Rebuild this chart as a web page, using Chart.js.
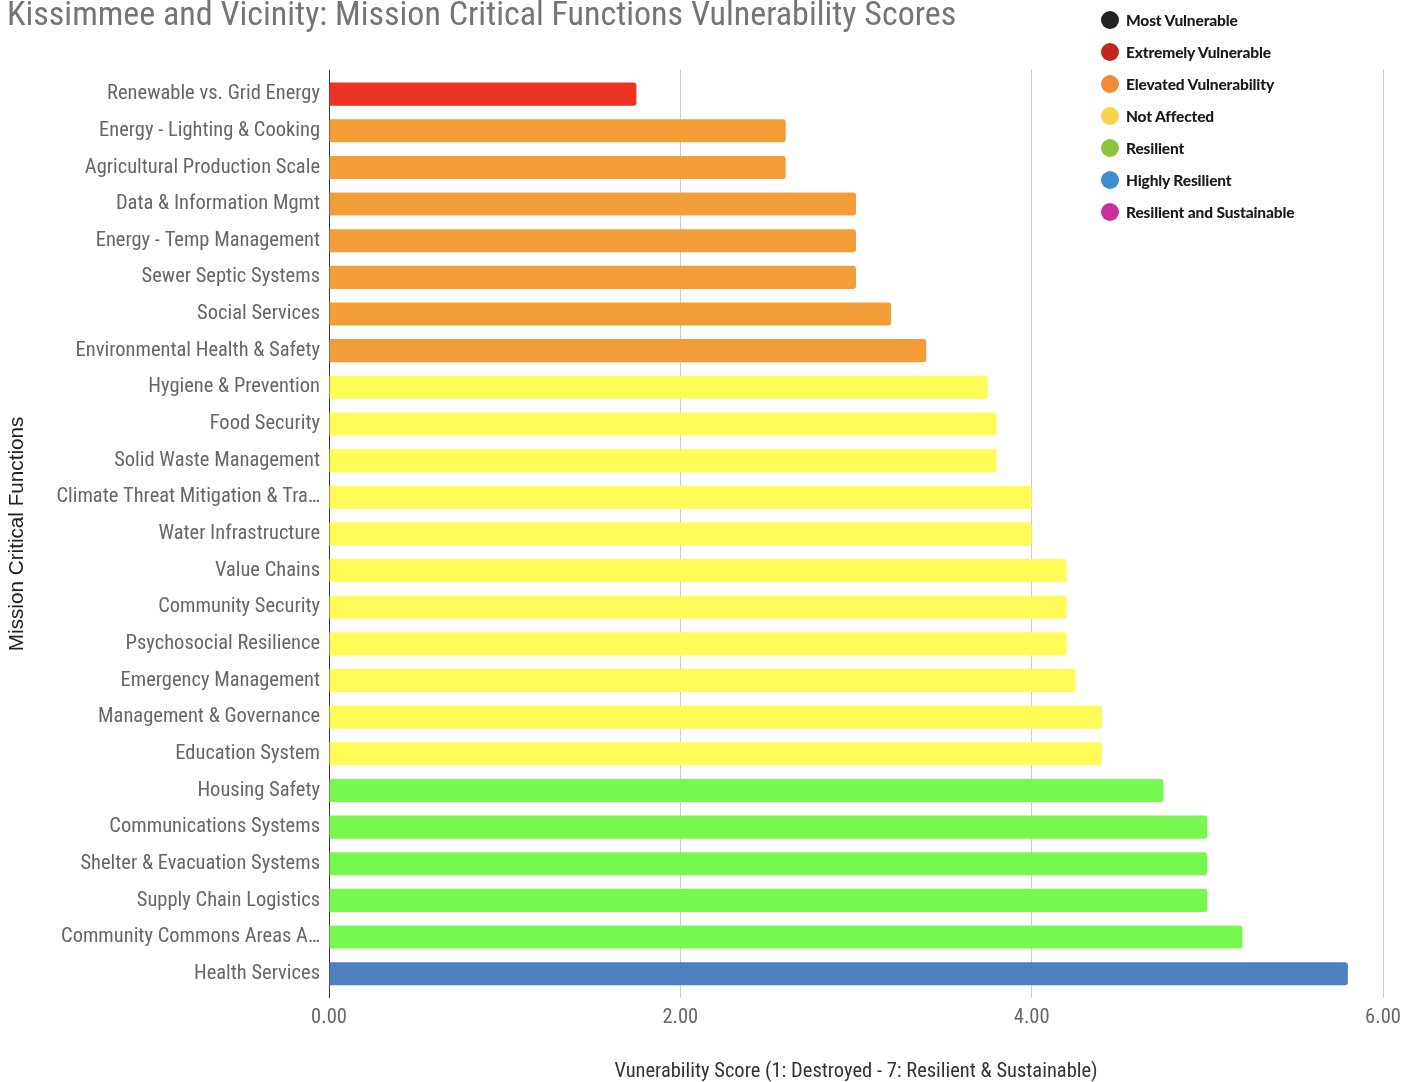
<!DOCTYPE html>
<html><head><meta charset="utf-8">
<script src="https://cdn.jsdelivr.net/npm/chart.js@4/dist/chart.umd.min.js"></script>
<style>
html,body{margin:0;padding:0;background:#fff;}
#wrap{position:relative;width:1406px;height:1082px;overflow:hidden;background:#fff;}
#legend{position:absolute;left:1101px;top:11px;font-family:Lato,sans-serif;font-weight:900;font-size:15.5px;color:#1a1a1a;letter-spacing:-0.15px;}
.li{height:18px;margin-bottom:14px;display:flex;align-items:center;white-space:nowrap;}
.dot{width:18px;height:18px;border-radius:50%;margin-right:7px;flex:none;}
</style></head><body>
<div id="wrap"><canvas id="c" width="1406" height="1082"></canvas><div id="legend"></div></div>
<script>
const chartTitle = 'Kissimmee and Vicinity: Mission Critical Functions Vulnerability Scores';
const xAxisTitle = 'Vunerability Score (1: Destroyed - 7: Resilient & Sustainable)';
const yAxisTitle = 'Mission Critical Functions';
const categories = [
  'Renewable vs. Grid Energy',
  'Energy - Lighting & Cooking',
  'Agricultural Production Scale',
  'Data & Information Mgmt',
  'Energy - Temp Management',
  'Sewer Septic Systems',
  'Social Services',
  'Environmental Health & Safety',
  'Hygiene & Prevention',
  'Food Security',
  'Solid Waste Management',
  'Climate Threat Mitigation & Tra…',
  'Water Infrastructure',
  'Value Chains',
  'Community Security',
  'Psychosocial Resilience',
  'Emergency Management',
  'Management & Governance',
  'Education System',
  'Housing Safety',
  'Communications Systems',
  'Shelter & Evacuation Systems',
  'Supply Chain Logistics',
  'Community Commons Areas A…',
  'Health Services'
];
const scores = [1.75, 2.6, 2.6, 3.0, 3.0, 3.0, 3.2, 3.4, 3.75, 3.8, 3.8, 4.0, 4.0, 4.2, 4.2, 4.2, 4.25, 4.4, 4.4, 4.75, 5.0, 5.0, 5.0, 5.2, 5.8];
const barLevels = [1, 2, 2, 2, 2, 2, 2, 2, 3, 3, 3, 3, 3, 3, 3, 3, 3, 3, 3, 4, 4, 4, 4, 4, 5];
const legendLabels = ['Most Vulnerable', 'Extremely Vulnerable', 'Elevated Vulnerability', 'Not Affected', 'Resilient', 'Highly Resilient', 'Resilient and Sustainable'];
const legendColors = ['#222222', '#c3261f', '#f08a36', '#f8d548', '#8cc63f', '#3d8dcf', '#c9309b'];
const levelBarColors = ['#222222', '#ee3224', '#f29d38', '#fffb57', '#77f84e', '#4d80c0', '#c9309b'];
const xTickLabels = ['0.00', '2.00', '4.00', '6.00'];

// legend
const lg = document.getElementById('legend');
legendLabels.forEach((t, i) => {
  const row = document.createElement('div'); row.className = 'li';
  const d = document.createElement('span'); d.className = 'dot'; d.style.background = legendColors[i];
  const s = document.createElement('span'); s.textContent = t;
  row.appendChild(d); row.appendChild(s); lg.appendChild(row);
});

const narrow = "'Liberation Sans Narrow', 'Roboto Condensed', Roboto, sans-serif";
const titleFont = "'Roboto Condensed', 'Liberation Sans Narrow', Roboto, sans-serif";
const gridColor = c => (c.tick && c.tick.value === 0) ? '#333333' : '#cccccc';

new Chart(document.getElementById('c'), {
  type: 'bar',
  data: {
    labels: categories,
    datasets: [{
      data: scores,
      backgroundColor: barLevels.map(l => levelBarColors[l]),
      borderRadius: 3,
      borderSkipped: 'start',
      categoryPercentage: 1.0,
      barPercentage: 0.63
    }]
  },
  options: {
    indexAxis: 'y',
    responsive: false,
    animation: false,
    layout: { padding: { left: 7, right: 23, top: 0, bottom: 0 } },
    plugins: {
      legend: { display: false },
      tooltip: { enabled: false },
      title: {
        display: true, text: chartTitle, align: 'start', color: '#757575',
        font: { family: titleFont, size: 34, weight: 'normal', lineHeight: 1.2 },
        padding: { top: -4, bottom: 33 }
      }
    },
    scales: {
      x: {
        type: 'linear', position: 'bottom', min: 0, max: 6,
        ticks: { stepSize: 2, callback: (v, i) => xTickLabels[i], font: { family: narrow, size: 20.5 }, color: '#666666', padding: 8, maxRotation: 0 },
        grid: { color: gridColor, tickColor: gridColor, tickLength: 6, drawTicks: true, lineWidth: 1 },
        border: { display: false },
        title: { display: true, text: xAxisTitle, color: '#333333', font: { family: narrow, size: 20.5, lineHeight: 1 }, padding: { top: 0, bottom: 0 } },
        afterFit: s => { s.height = 90; s.paddingRight = 0; s.paddingLeft = 0; }
      },
      x2: {
        type: 'linear', position: 'top', min: 0, max: 6,
        ticks: { display: false, stepSize: 2 },
        grid: { drawOnChartArea: false, drawTicks: true, tickLength: 6, color: gridColor, tickColor: gridColor },
        border: { display: false },
        afterFit: s => { s.height = 6; s.paddingRight = 0; s.paddingLeft = 0; }
      },
      y: {
        type: 'category',
        ticks: { font: { family: narrow, size: 20.5 }, color: '#666666', padding: 9, autoSkip: false },
        grid: { display: false, drawTicks: false },
        border: { display: true, color: '#333333', width: 1 },
        title: { display: true, text: yAxisTitle, color: '#222222', font: { family: "'Liberation Sans', Arial, sans-serif", size: 20.7, lineHeight: 1 }, padding: { top: 0, bottom: 0 } },
        afterFit: s => { s.width = 322; }
      }
    }
  }
});
</script>
</body></html>
